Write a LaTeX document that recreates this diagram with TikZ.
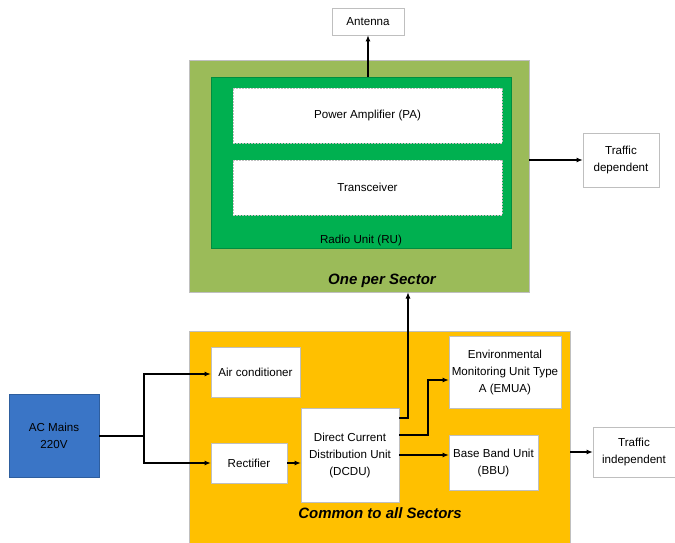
\documentclass[tikz,border=0pt]{standalone}
\usepackage{fontspec}
\setmainfont{Liberation Sans}
\usetikzlibrary{arrows.meta}
\definecolor{olivebg}{HTML}{9BBB59}
\definecolor{rugreen}{HTML}{00B050}
\definecolor{amberbg}{HTML}{FFC000}
\definecolor{mainsblue}{HTML}{3A75C6}
\definecolor{edgegray}{HTML}{BFBFBF}
\tikzset{
  blk/.style={draw=edgegray, line width=0.7pt, fill=white, align=center,
    inner sep=0pt, outer sep=0pt, font=\fontsize{11.6}{17}\selectfont},
  subblk/.style={blk, dash pattern=on 2pt off 1pt},
  area/.style={draw=edgegray, line width=0.7pt, inner sep=0pt, outer sep=0pt},
  title/.style={font=\fontsize{15}{18}\selectfont\bfseries\itshape},
  arr/.style={line width=1.4pt, -{Latex[length=6.5pt,width=5pt]}},
  wire/.style={line width=1.6pt}
}
\begin{document}
\begin{tikzpicture}[x=1pt,y=-1pt]
\useasboundingbox (0,0) rectangle (675,543);
\clip (0,0) rectangle (675,543);
\fill[white] (0,0) rectangle (675,543);

% per-sector radio part
\node[area, fill=olivebg, minimum width=340pt, minimum height=232pt] (olive) at (359,176) {};
\node[area, draw=rugreen!80!black, fill=rugreen, minimum width=300pt, minimum height=171pt] (ru) at (361,162.5) {};
\node[subblk, minimum width=269pt, minimum height=55pt] (pa) at (367.5,115.5) {Power Amplifier (PA)};
\node[subblk, minimum width=269pt, minimum height=55pt] (trx) at (367.5,187.5) {Transceiver};
\node[font=\fontsize{11.6}{17}\selectfont] (rulabel) at (361,240) {Radio Unit (RU)};
\node[title] (onesector) at (382,281) {One per Sector};

\node[blk, minimum width=72pt, minimum height=27pt] (antenna) at (368,21.5) {Antenna};
\node[blk, minimum width=76pt, minimum height=54pt] (trafdep) at (621,160) {Traffic\\dependent};

% shared equipment part
\node[area, fill=amberbg, minimum width=381pt, minimum height=222pt] (amber) at (379.5,442) {};
\node[blk, minimum width=89pt, minimum height=50pt] (aircon) at (255.5,372) {Air conditioner};
\node[blk, minimum width=76pt, minimum height=40pt] (rect) at (249,463) {Rectifier};
\node[blk, minimum width=98pt, minimum height=94pt] (dcdu) at (350,455) {Direct Current\\Distribution Unit\\(DCDU)};
\node[blk, minimum width=112pt, minimum height=72pt] (emua) at (505,372) {Environmental\\Monitoring Unit Type\\A (EMUA)};
\node[blk, minimum width=89pt, minimum height=55pt] (bbu) at (493.5,462.5) {Base Band Unit\\(BBU)};
\node[title] (common) at (380,513) {Common to all Sectors};

\node[blk, draw=mainsblue!80!black, fill=mainsblue, minimum width=90pt, minimum height=83pt] (mains) at (54,436) {AC Mains\\220V};
\node[blk, minimum width=82pt, minimum height=50pt] (trafind) at (634,452) {Traffic\\independent};

% connectors
\draw[arr] (antenna.south |- ru.north) -- (antenna.south);
\draw[arr] (olive.east |- trafdep.west) -- (trafdep.west);

\draw[wire] (mains.east) -- ++(45,0) coordinate (split);
\draw[arr] (split) |- ([yshift=-2pt]aircon.west);
\draw[arr] (split) |- (rect.west);
\draw[arr] (rect.east) -- (rect.east -| dcdu.west);

\draw[arr] ([yshift=37pt]dcdu.east) -| ([xshift=49pt]olive.south);
\draw[arr] ([yshift=20pt]dcdu.east) -- ++(29,0) |- ([yshift=-8pt]emua.west);
\draw[arr] (dcdu.east) -- (dcdu.east -| bbu.west);
\draw[arr] (amber.east |- trafind.west) -- (trafind.west);
\end{tikzpicture}
\end{document}
